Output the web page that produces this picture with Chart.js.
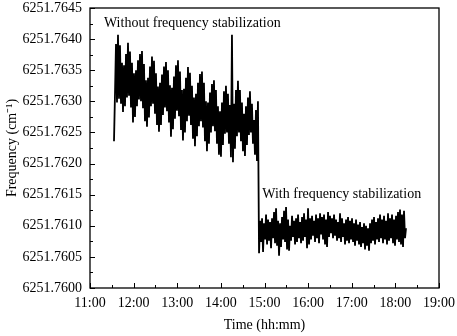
<!DOCTYPE html>
<html>
<head>
<meta charset="utf-8">
<script src="https://cdn.jsdelivr.net/npm/chart.js@4.4.1/dist/chart.umd.min.js"></script>
<style>
  html, body { margin: 0; padding: 0; background: #fff; }
  #wrap { width: 457px; height: 336px; }
</style>
</head>
<body>
<div id="wrap"><canvas id="freqChart"></canvas></div>
<script>
// readings are stored as offsets in 1e-5 cm^-1 above BASE
const BASE = 6251.76;
const UNIT = 1e-5;

// sampling grid (hours)
const FREE_START = 11 + 33 / 60;
const LOCK_START = 14 + 52.5 / 60;
const STEP = 1.375 / 60;

// laser running free (drifting, ~16 min oscillation)
const freeRun = [
  236, 312, 392, 298, 407, 304, 390, 296, 362, 283, 358, 292, 376, 306, 394, 309,
  380, 290, 362, 266, 345, 275, 350, 292, 366, 303, 376, 300, 381, 289, 360, 268,
  334, 259, 338, 274, 356, 292, 372, 296, 365, 280, 345, 262, 324, 251, 330, 262,
  343, 278, 356, 290, 363, 284, 350, 266, 326, 243, 322, 255, 340, 272, 358, 285,
  366, 276, 348, 254, 318, 237, 320, 250, 338, 268, 355, 277, 346, 262, 325, 240,
  306, 228, 312, 244, 330, 260, 344, 268, 348, 258, 330, 236, 300, 220, 298, 232,
  314, 250, 328, 260, 334, 252, 318, 232, 292, 214, 284, 211, 298, 230, 316, 248,
  325, 250, 312, 232, 294, 210, 407, 202, 296, 224, 318, 244, 333, 250, 318, 236,
  298, 220, 280, 212, 292, 230, 306, 246, 316, 250, 296, 232, 270, 214, 286, 204,
  300
];

// laser locked to the reference
const locked = [
   56, 108,  74, 112,  58, 104,  78, 118,  70, 110,  76, 106,  64, 112,  80, 122,
   72, 128,  68, 108,  52, 104,  66, 114,  78, 124,  74, 130,  62, 110,  60, 100,
   76, 116,  82, 108,  70, 112,  74, 118,  80, 106,  72, 114,  76, 120,  82, 110,
   64, 128,  70, 112,  78, 116,  84, 108,  74, 118,  80, 112,  72, 120,  86, 114,
   78, 118,  70, 110,  66, 122,  82, 116,  88, 112,  80, 118,  84, 110,  76, 106,
   80, 120,  74, 112,  82, 104,  70, 110,  76, 114,  72, 108,  78, 112,  74, 104,
   68, 110,  76, 102,  70, 106,  66,  98,  72, 104,  62, 100,  68,  96,  60, 104,
   72, 110,  76, 114,  70, 106,  78, 112,  74, 118,  80, 110,  72, 116,  78, 108,
   70, 120,  76, 112,  80, 118,  72, 110,  68, 116,  78, 122,  74, 126,  70, 118,
   66, 124,  80,  96
];

const yTicks = [6251.7600, 6251.7605, 6251.7610, 6251.7615, 6251.7620,
                6251.7625, 6251.7630, 6251.7635, 6251.7640, 6251.7645];
const xTicks = [11, 12, 13, 14, 15, 16, 17, 18, 19];
const xTickLabels = ['11:00', '12:00', '13:00', '14:00', '15:00', '16:00', '17:00', '18:00', '19:00'];

const noteFree = 'Without frequency stabilization';
const noteLocked = 'With frequency stabilization';

const points = [
  ...freeRun.map((v, i) => ({ x: FREE_START + i * STEP, y: BASE + v * UNIT })),
  ...locked.map((v, i) => ({ x: LOCK_START + i * STEP, y: BASE + v * UNIT }))
];

const FONT = '"Liberation Serif", "Times New Roman", serif';

// box around the plot plus inward major/minor ticks, and the two notes
const framePlugin = {
  id: 'frame',
  afterDraw(chart) {
    const { ctx, chartArea: a, scales: { x, y } } = chart;
    ctx.save();
    ctx.strokeStyle = '#000';
    ctx.lineWidth = 1.3;
    ctx.strokeRect(a.left, a.top, a.right - a.left, a.bottom - a.top);

    ctx.lineWidth = 1;
    ctx.beginPath();
    xTicks.forEach((t, i) => {
      const px = Math.round(x.getPixelForValue(t)) + 0.5;
      ctx.moveTo(px, a.bottom); ctx.lineTo(px, a.bottom - 5);
      if (i < xTicks.length - 1) {
        const mx = Math.round(x.getPixelForValue((t + xTicks[i + 1]) / 2)) + 0.5;
        ctx.moveTo(mx, a.bottom); ctx.lineTo(mx, a.bottom - 3);
      }
    });
    yTicks.forEach((v, i) => {
      const py = Math.round(y.getPixelForValue(v)) + 0.5;
      ctx.moveTo(a.left, py); ctx.lineTo(a.left + 5, py);
      if (i < yTicks.length - 1) {
        const my = Math.round(y.getPixelForValue((v + yTicks[i + 1]) / 2)) + 0.5;
        ctx.moveTo(a.left, my); ctx.lineTo(a.left + 3, my);
      }
    });
    ctx.stroke();

    ctx.fillStyle = '#000';
    ctx.font = '14px ' + FONT;
    ctx.textBaseline = 'middle';
    ctx.textAlign = 'left';
    ctx.fillText(noteFree, x.getPixelForValue(11.32), y.getPixelForValue(6251.76425));
    ctx.fillText(noteLocked, x.getPixelForValue(14.95), y.getPixelForValue(6251.76150));
    ctx.restore();
  }
};

new Chart(document.getElementById('freqChart'), {
  type: 'line',
  data: {
    datasets: [{
      data: points,
      borderColor: '#000',
      borderWidth: 1.8,
      pointRadius: 0,
      tension: 0,
      fill: false
    }]
  },
  options: {
    responsive: true,
    maintainAspectRatio: false,
    animation: false,
    layout: { padding: { top: 8, right: 18, left: 0, bottom: 0 } },
    plugins: { legend: { display: false }, tooltip: { enabled: false } },
    scales: {
      x: {
        type: 'linear',
        min: 11, max: 19,
        grid: { display: false, drawTicks: false },
        border: { display: false },
        afterFit: (s) => { s.height = 48; s.paddingLeft = 0; s.paddingRight = 0; },
        afterBuildTicks: (s) => { s.ticks = xTicks.map(v => ({ value: v })); },
        ticks: {
          color: '#000', padding: 7, maxRotation: 0,
          font: { family: FONT, size: 14 },
          callback: (v, i) => xTickLabels[i]
        },
        title: {
          display: true, text: 'Time (hh:mm)', color: '#000',
          font: { family: FONT, size: 14 },
          padding: { top: 0, bottom: 2 }
        }
      },
      y: {
        min: 6251.76, max: 6251.7645,
        grid: { display: false, drawTicks: false },
        border: { display: false },
        afterFit: (s) => { s.width = 90; s.paddingTop = 0; s.paddingBottom = 0; },
        afterBuildTicks: (s) => { s.ticks = yTicks.map(v => ({ value: v })); },
        ticks: {
          color: '#000', padding: 8,
          font: { family: FONT, size: 14 },
          callback: (v) => Number(v).toFixed(4)
        },
        title: {
          display: true, text: 'Frequency (cm\u207B\u00B9)', color: '#000',
          font: { family: FONT, size: 14 },
          padding: { top: 4, bottom: 0 }
        }
      }
    }
  },
  plugins: [framePlugin]
});
</script>
</body>
</html>
